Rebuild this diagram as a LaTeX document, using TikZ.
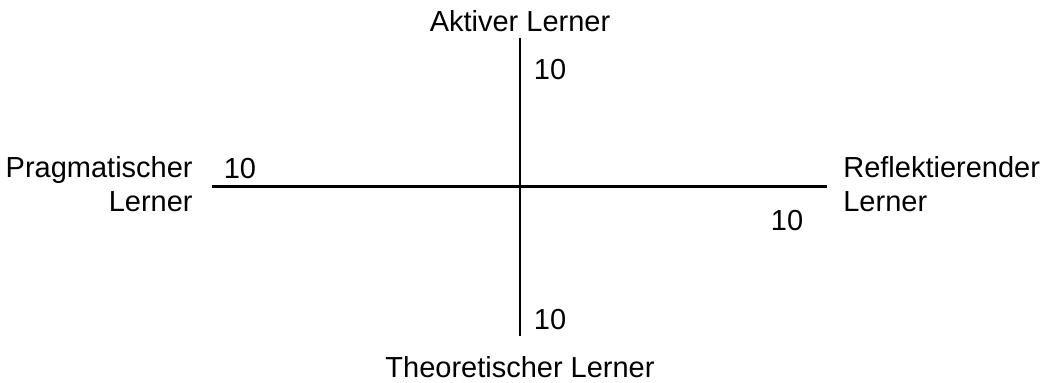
\documentclass[tikz,border=0pt]{standalone}
\usepackage{fontspec}
\setmainfont{Liberation Sans}
\usepackage{tikz}
\usetikzlibrary{positioning,calc}

\begin{document}
\begin{tikzpicture}[
    axis/.style={line width=1.4pt},
    pole/.style={inner sep=0pt, font=\fontsize{16.5pt}{19.4pt}\selectfont},
    score/.style={inner sep=0pt, font=\fontsize{16.5pt}{19.4pt}\selectfont}
]
    \useasboundingbox (0,0) rectangle (20.88,7.66);

    % axis end points
    \coordinate (west) at (4.24,3.93);
    \coordinate (east) at (16.54,3.93);
    \coordinate (north) at (10.40,6.90);
    \coordinate (south) at (10.40,0.94);

    \draw[axis] (west) -- (east);
    \draw[axis] (north) -- (south);

    % learner types
    \node[pole, anchor=base] (aktiv) at (10.40,7.02) {Aktiver Lerner};
    \node[pole, anchor=base] (theo) at (10.40,0.10) {Theoretischer Lerner};
    \node[pole, anchor=base east, align=right] (prag) at (3.86,3.42) {Pragmatischer\\Lerner};
    \node[pole, anchor=base west, align=left] (refl) at (16.86,3.42) {Reflektierender\\Lerner};

    % scale values
    \node[score] (sAktiv) at (11.00,6.26) {10};
    \node[score] (sPrag) at (4.80,4.28) {10};
    \node[score] (sRefl) at (15.74,3.24) {10};
    \node[score] (sTheo) at (11.00,1.26) {10};
\end{tikzpicture}
\end{document}
